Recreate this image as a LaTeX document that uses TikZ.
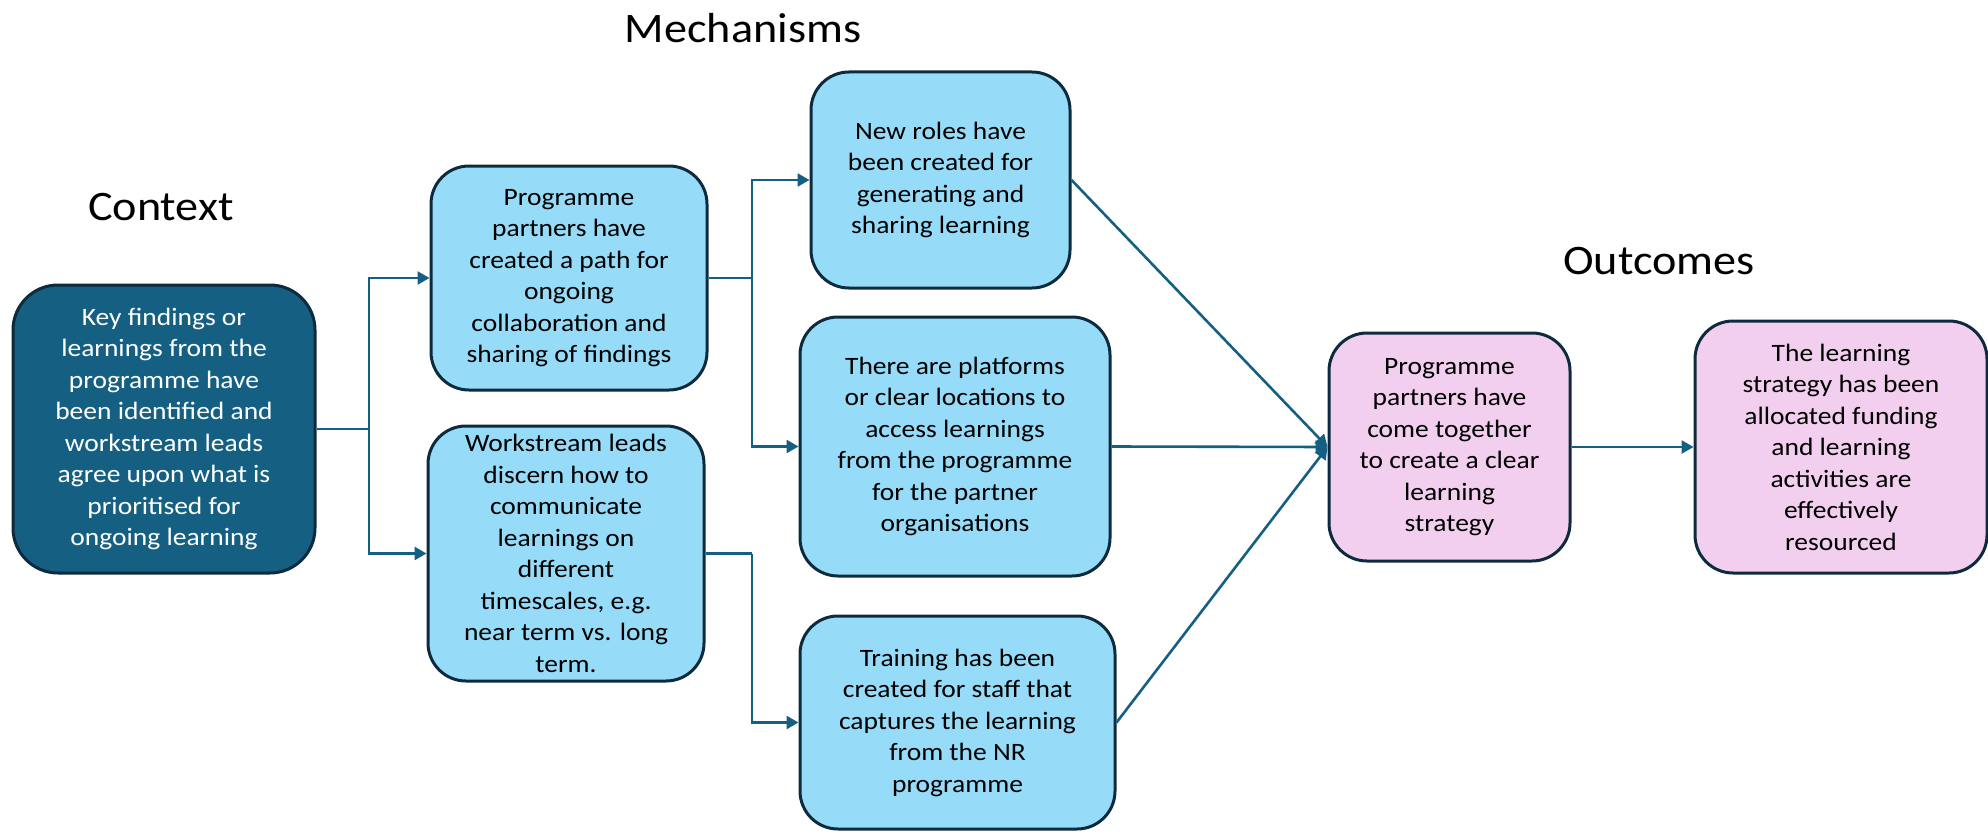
\documentclass[tikz,border=0pt]{standalone}
\usepackage{fontspec}
\setmainfont{Carlito}[FakeStretch=1.1]
\usetikzlibrary{arrows.meta}

\definecolor{boxline}{HTML}{0E2A3D}
\definecolor{ctxfill}{HTML}{156082}
\definecolor{mechfill}{HTML}{96DCF8}
\definecolor{outfill}{HTML}{F2CEEF}
\definecolor{linkcol}{HTML}{156082}

\tikzset{
  card/.style={draw=boxline, line width=3pt, rounded corners=38pt, align=center,
    inner sep=0pt, font=\fontsize{25}{31.5}\selectfont, text=black},
  ctxcard/.style={card, fill=ctxfill, text=white, rounded corners=45pt},
  mechcard/.style={card, fill=mechfill},
  outcard/.style={card, fill=outfill},
  heading/.style={font=\fontsize{42}{50}\selectfont, inner sep=0pt},
  link/.style={draw=linkcol, line width=2.6pt},
  arrowlink/.style={link, -{Triangle[length=12pt,width=13pt]}},
}

\begin{document}
\begin{tikzpicture}[x=1pt, y=-1pt]
\useasboundingbox (0,0) rectangle (1988,832);

% column headings
\node[heading] (tctx)  at (161,207)  {Context};
\node[heading] (tmech) at (743,28)   {Mechanisms};
\node[heading] (tout)  at (1659,261) {Outcomes};

% context
\node[ctxcard, minimum width=302pt, minimum height=288pt] (ctx) at (164,429)
  {Key findings or\\ learnings from the\\ programme have\\ been identified and\\
   workstream leads\\ agree upon what is\\ prioritised for\\ ongoing learning};

% mechanisms, first tier
\node[mechcard, minimum width=276pt, minimum height=224pt] (p1) at (569,278)
  {Programme\\ partners have\\ created a path for\\ ongoing\\ collaboration and\\ sharing of findings};
\node[mechcard, minimum width=276pt, minimum height=255pt] (p2) at (566,553.5)
  {Workstream leads\\ discern how to\\ communicate\\ learnings on\\ different\\ timescales, e.g.\\ near term vs. long\\ term.};

% mechanisms, second tier
\node[mechcard, minimum width=259pt, minimum height=216pt] (m1) at (940.5,180)
  {New roles have\\ been created for\\ generating and\\ sharing learning};
\node[mechcard, minimum width=310pt, minimum height=259pt] (m2) at (955,446.5)
  {There are platforms\\ or clear locations to\\ access learnings\\ from the programme\\ for the partner\\ organisations};
\node[mechcard, minimum width=315pt, minimum height=213pt] (m3) at (957.5,722.5)
  {Training has been\\ created for staff that\\ captures the learning\\ from the NR\\ programme};

% outcomes
\node[outcard, minimum width=241pt, minimum height=228pt] (o1) at (1449.5,447)
  {Programme\\ partners have\\ come together\\ to create a clear\\ learning\\ strategy};
\node[outcard, minimum width=292pt, minimum height=252pt] (o2) at (1841,447)
  {The learning\\ strategy has been\\ allocated funding\\ and learning\\ activities are\\ effectively\\ resourced};

% branching points of the elbow connectors
\coordinate (j1) at (369,429);
\coordinate (j2) at (752,278);
\coordinate (j3) at (752,553.5);

\draw[link] (ctx.east) -- (j1);
\draw[arrowlink] (j1) |- (p1.west);
\draw[arrowlink] (j1) |- (p2.west);

\draw[link] (p1.east) -- (j2);
\draw[arrowlink] (j2) |- (m1.west);
\draw[arrowlink] (j2) |- (m2.west);
\draw[link] (p2.east) -- (j3);
\draw[arrowlink] (j3) |- (m3.west);

\draw[arrowlink] (m1.east) -- (o1.west);
\draw[arrowlink] (m2.east) -- (o1.west);
\draw[arrowlink] (m3.east) -- (o1.west);
\draw[arrowlink] (o1.east) -- (o2.west);
\end{tikzpicture}
\end{document}
